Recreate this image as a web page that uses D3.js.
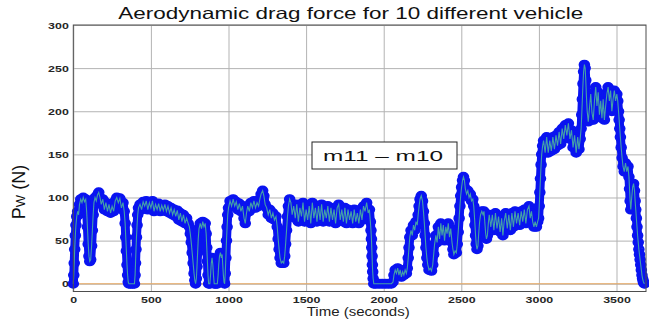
<!DOCTYPE html>
<html>
<head>
<meta charset="utf-8">
<script src="https://cdnjs.cloudflare.com/ajax/libs/d3/7.8.5/d3.min.js"></script>
<style>
  body { margin: 0; background: #fff; }
  svg { display: block; font-family: "Liberation Sans", Arial, sans-serif; }
</style>
</head>
<body>
<svg id="chart"></svg>
<script>
'use strict';

// [time (s), drag force (N)], one array per stretch of the trace
var segment1 = [[0,0],[3,10],[6,24],[9,40],[13,56],[17,68],[22,78],[28,84],[34,80],[40,92],[48,98],[56,94],[64,100],[72,95],[80,98],[86,84],[91,66],[96,46],[101,32],[106,26],[112,28],[118,44],[123,62],[128,80],[133,94],[140,100],[148,96],[156,103],[164,106],[172,100],[180,92],[190,98],[200,86],[210,94],[220,84],[230,92],[240,82],[250,90],[260,84],[270,96],[280,100],[290,94],[300,99],[310,88],[320,94],[328,84],[334,70],[338,54],[342,38],[346,22],[350,10],[354,2],[358,0],[370,0],[382,0],[394,0],[398,10],[401,24],[404,40],[407,54],[411,68],[415,80],[420,88]];

var segment2 = [[430,92],[440,86],[450,95],[460,90],[470,96],[480,86],[490,94],[500,88],[510,96],[520,84],[530,92],[540,86],[550,93],[560,84],[570,91],[580,85],[590,92],[600,84],[610,90],[620,82],[630,88],[640,80],[650,86],[660,78],[670,85],[680,74],[690,82],[700,72],[710,80],[720,70],[730,76],[740,70],[748,66],[754,58],[760,48],[766,36],[772,24],[778,12],[783,4],[788,0],[793,6],[797,20],[801,36],[805,52],[810,64],[818,70],[826,64],[834,72],[842,66],[850,70],[856,58],[860,42],[864,26],[868,10],[872,0],[880,0],[885,12],[889,24],[894,30],[899,22],[904,8],[908,0],[918,0],[928,0],[933,10],[937,22],[942,32],[948,36],[954,30],[959,34],[963,22],[967,10],[971,2],[975,0],[979,12],[983,30],[987,50],[991,66],[995,80],[1000,88]];

var segment3 = [[1010,96],[1020,90],[1030,98],[1040,90],[1050,95],[1060,86],[1070,93],[1080,84],[1090,90],[1100,76],[1108,70],[1116,82],[1124,90],[1134,84],[1144,94],[1154,88],[1164,96],[1174,88],[1184,94],[1194,90],[1202,98],[1210,104],[1220,108],[1228,102],[1236,92],[1246,88],[1256,80],[1266,86],[1276,76],[1286,82],[1296,74],[1306,78],[1314,66],[1320,52],[1326,40],[1332,30],[1340,24],[1348,26],[1356,24],[1362,32],[1368,46],[1374,62],[1380,78],[1386,90],[1394,98],[1402,94],[1410,80],[1420,90],[1430,76],[1440,92],[1450,72],[1460,88],[1470,78],[1480,94],[1490,72],[1500,86],[1510,74],[1520,90],[1530,70],[1540,94],[1550,76],[1560,88],[1570,72],[1580,90],[1590,74],[1600,92],[1610,72],[1620,86],[1630,76],[1640,90],[1650,72],[1660,88],[1670,74],[1680,86],[1690,70],[1700,88],[1710,92],[1720,74],[1730,86],[1740,72],[1750,88],[1760,70],[1770,86],[1780,74],[1790,84],[1800,70],[1810,86],[1820,72],[1830,82],[1840,70],[1850,86],[1860,74],[1870,90],[1880,84],[1890,94],[1900,82],[1908,86],[1914,72],[1918,62],[1921,52],[1923,42],[1925,32],[1927,22],[1929,14],[1932,6],[1936,0]];

var segment4 = [[1950,0],[1970,0],[1990,0],[2010,0],[2030,0],[2050,0],[2060,2],[2066,10],[2074,16],[2082,12],[2090,18],[2098,10],[2106,16],[2114,8],[2122,14],[2130,10],[2138,16],[2146,12],[2152,18],[2158,30],[2163,42],[2168,54],[2176,62],[2184,56],[2192,68],[2200,62],[2208,72],[2216,68],[2222,80],[2228,90],[2234,98],[2242,102],[2250,96],[2256,84],[2262,70],[2267,56],[2272,42],[2278,30],[2284,22],[2292,16],[2300,18],[2308,15],[2316,22],[2322,34],[2328,46],[2336,56],[2344,48],[2352,66],[2360,52],[2368,70],[2376,56],[2384,68],[2392,50],[2400,66],[2408,58],[2416,70],[2424,54],[2432,64],[2440,48],[2446,40],[2452,34],[2460,38],[2468,36],[2474,46],[2480,60],[2486,76],[2491,90],[2496,102],[2502,112],[2508,120],[2514,124]];

var segment5 = [[2520,120],[2526,110],[2534,104],[2542,108],[2550,100],[2558,104],[2566,96],[2574,98],[2580,90],[2584,80],[2588,68],[2592,56],[2596,46],[2601,40],[2607,44],[2612,58],[2618,72],[2624,80],[2632,84],[2640,80],[2646,84],[2652,70],[2657,58],[2662,52],[2668,56],[2674,70],[2680,80],[2690,66],[2700,80],[2710,62],[2720,82],[2730,64],[2740,78],[2750,60],[2760,76],[2768,56],[2776,72],[2786,82],[2796,64],[2806,80],[2816,62],[2826,82],[2836,66],[2846,84],[2856,70],[2866,82],[2876,68],[2886,84],[2896,72],[2906,86],[2916,70],[2926,86],[2936,90],[2944,76],[2952,84],[2960,72],[2968,66],[2976,72],[2984,66],[2992,72],[2998,76],[3002,90],[3006,106],[3010,122],[3014,138],[3018,150],[3024,160],[3030,166]];

var segment6 = [[3040,152],[3050,170],[3060,152],[3070,166],[3080,154],[3090,170],[3100,156],[3110,172],[3120,160],[3130,176],[3140,162],[3150,180],[3160,168],[3170,184],[3180,172],[3190,186],[3200,168],[3210,178],[3220,158],[3230,172],[3240,152],[3250,170],[3258,156],[3266,168],[3272,180],[3276,196],[3280,214],[3284,232],[3288,246],[3293,254],[3298,250],[3302,236],[3306,218],[3311,200],[3318,188],[3326,204],[3334,220],[3342,198],[3350,190],[3358,212],[3366,228],[3374,206],[3382,222],[3390,196],[3398,212],[3406,192],[3414,214],[3422,190],[3430,206],[3438,220],[3446,228],[3454,212],[3462,224],[3470,200],[3478,214],[3486,224],[3494,212],[3502,220],[3508,212],[3513,200],[3517,190],[3521,180],[3525,170],[3530,158],[3536,146],[3542,136],[3550,130],[3558,140],[3566,130],[3574,136],[3580,124],[3584,110],[3588,96],[3592,86],[3598,100],[3604,112],[3610,116],[3616,108],[3620,96],[3624,86],[3628,76],[3632,66],[3636,56],[3640,48],[3644,40],[3648,34],[3652,28],[3656,22],[3660,16],[3664,10],[3668,6],[3672,3],[3676,1],[3680,0]];

// flat reference line at zero
var zeroLine = [[0,0],[3690,0]];

var xTicks = [0, 500, 1000, 1500, 2000, 2500, 3000, 3500];
var yTicks = [0, 50, 100, 150, 200, 250, 300];

var titleText = 'Aerodynamic drag force for 10 different vehicle';
var xLabelText = 'Time (seconds)';
var noteText = 'm11 \u2013 m10';

var width = 649;
var height = 320;

var svg = d3.select('#chart')
  .attr('width', width)
  .attr('height', height);

var x = d3.scaleLinear().domain([0, 3690]).range([73.3, 646]);
var y = d3.scaleLinear().domain([-9, 300]).range([291.5, 25]);

var plotLeft = x.range()[0], plotRight = x.range()[1];
var plotTop = y.range()[1], plotBottom = y.range()[0];

var trace = [].concat(segment1, segment2, segment3, segment4, segment5, segment6);

// grid
svg.append('g')
  .attr('transform', 'translate(0,' + plotBottom + ')')
  .call(d3.axisBottom(x).tickValues(xTicks).tickSize(-(plotBottom - plotTop)).tickFormat(''))
  .call(function(g) {
    g.select('.domain').remove();
    g.selectAll('line').attr('stroke', '#b3b3b3').attr('stroke-width', 1);
  });

svg.append('g')
  .attr('transform', 'translate(' + plotLeft + ',0)')
  .call(d3.axisLeft(y).tickValues(yTicks).tickSize(-(plotRight - plotLeft)).tickFormat(''))
  .call(function(g) {
    g.select('.domain').remove();
    g.selectAll('line').attr('stroke', '#b3b3b3').attr('stroke-width', 1);
  });

var line = d3.line()
  .x(function(d) { return x(d[0]); })
  .y(function(d) { return y(d[1]); });

svg.append('path')
  .datum(zeroLine)
  .attr('fill', 'none')
  .attr('stroke', '#e9a860')
  .attr('stroke-width', 1.2)
  .attr('d', line);

// thick blue band under the markers
svg.append('path')
  .datum(trace)
  .attr('fill', 'none')
  .attr('stroke', '#0a14f0')
  .attr('stroke-width', 9)
  .attr('stroke-linejoin', 'round')
  .attr('stroke-linecap', 'round')
  .attr('d', line);

svg.append('g')
  .selectAll('ellipse')
  .data(trace)
  .join('ellipse')
  .attr('cx', function(d) { return x(d[0]); })
  .attr('cy', function(d) { return y(d[1]); })
  .attr('rx', 4.8)
  .attr('ry', 4.0)
  .attr('fill', 'none')
  .attr('stroke', '#0a14f0')
  .attr('stroke-width', 2);

svg.append('path')
  .datum(trace)
  .attr('fill', 'none')
  .attr('stroke', '#44a0a8')
  .attr('stroke-width', 1.1)
  .attr('d', line);

// axes box
svg.append('rect')
  .attr('x', plotLeft)
  .attr('y', plotTop)
  .attr('width', plotRight - plotLeft)
  .attr('height', plotBottom - plotTop)
  .attr('fill', 'none')
  .attr('stroke', '#4d4d4d')
  .attr('stroke-width', 1);

function styleTicks(g) {
  g.select('.domain').remove();
  g.selectAll('line').remove();
  g.selectAll('text')
    .attr('fill', '#262626')
    .attr('font-size', 9.5)
    .attr('font-weight', 'bold')
    .attr('font-family', '"Liberation Sans", Arial, sans-serif')
    .attr('lengthAdjust', 'spacingAndGlyphs')
    .attr('textLength', function(d) { return String(d).length * 6.9; });
}

svg.append('g')
  .attr('transform', 'translate(0,' + plotBottom + ')')
  .call(d3.axisBottom(x).tickValues(xTicks).tickSize(0).tickPadding(4.5).tickFormat(d3.format('d')))
  .call(styleTicks);

svg.append('g')
  .attr('transform', 'translate(' + plotLeft + ',0)')
  .call(d3.axisLeft(y).tickValues(yTicks).tickSize(0).tickPadding(4.5).tickFormat(d3.format('d')))
  .call(styleTicks);

// title and labels
svg.append('text')
  .attr('x', 118.3)
  .attr('y', 19)
  .attr('font-size', 16.5)
  .attr('fill', '#111')
  .attr('textLength', 465)
  .attr('lengthAdjust', 'spacingAndGlyphs')
  .text(titleText);

svg.append('text')
  .attr('x', 306.7)
  .attr('y', 315.5)
  .attr('font-size', 12)
  .attr('fill', '#222')
  .attr('textLength', 103)
  .attr('lengthAdjust', 'spacingAndGlyphs')
  .text(xLabelText);

var yLabel = svg.append('text')
  .attr('transform', 'translate(25,192) rotate(-90)')
  .attr('text-anchor', 'middle')
  .attr('fill', '#111')
  .attr('font-size', 18);
yLabel.append('tspan').text('P');
yLabel.append('tspan').attr('font-size', 13).text('W');
yLabel.append('tspan').text(' (N)');

// annotation box
svg.append('rect')
  .attr('x', 312)
  .attr('y', 142)
  .attr('width', 145)
  .attr('height', 27)
  .attr('fill', '#fff')
  .attr('stroke', '#222')
  .attr('stroke-width', 1);

svg.append('text')
  .attr('x', 323)
  .attr('y', 161)
  .attr('font-size', 15)
  .attr('fill', '#111')
  .attr('textLength', 120)
  .attr('lengthAdjust', 'spacingAndGlyphs')
  .text(noteText);
</script>
</body>
</html>
